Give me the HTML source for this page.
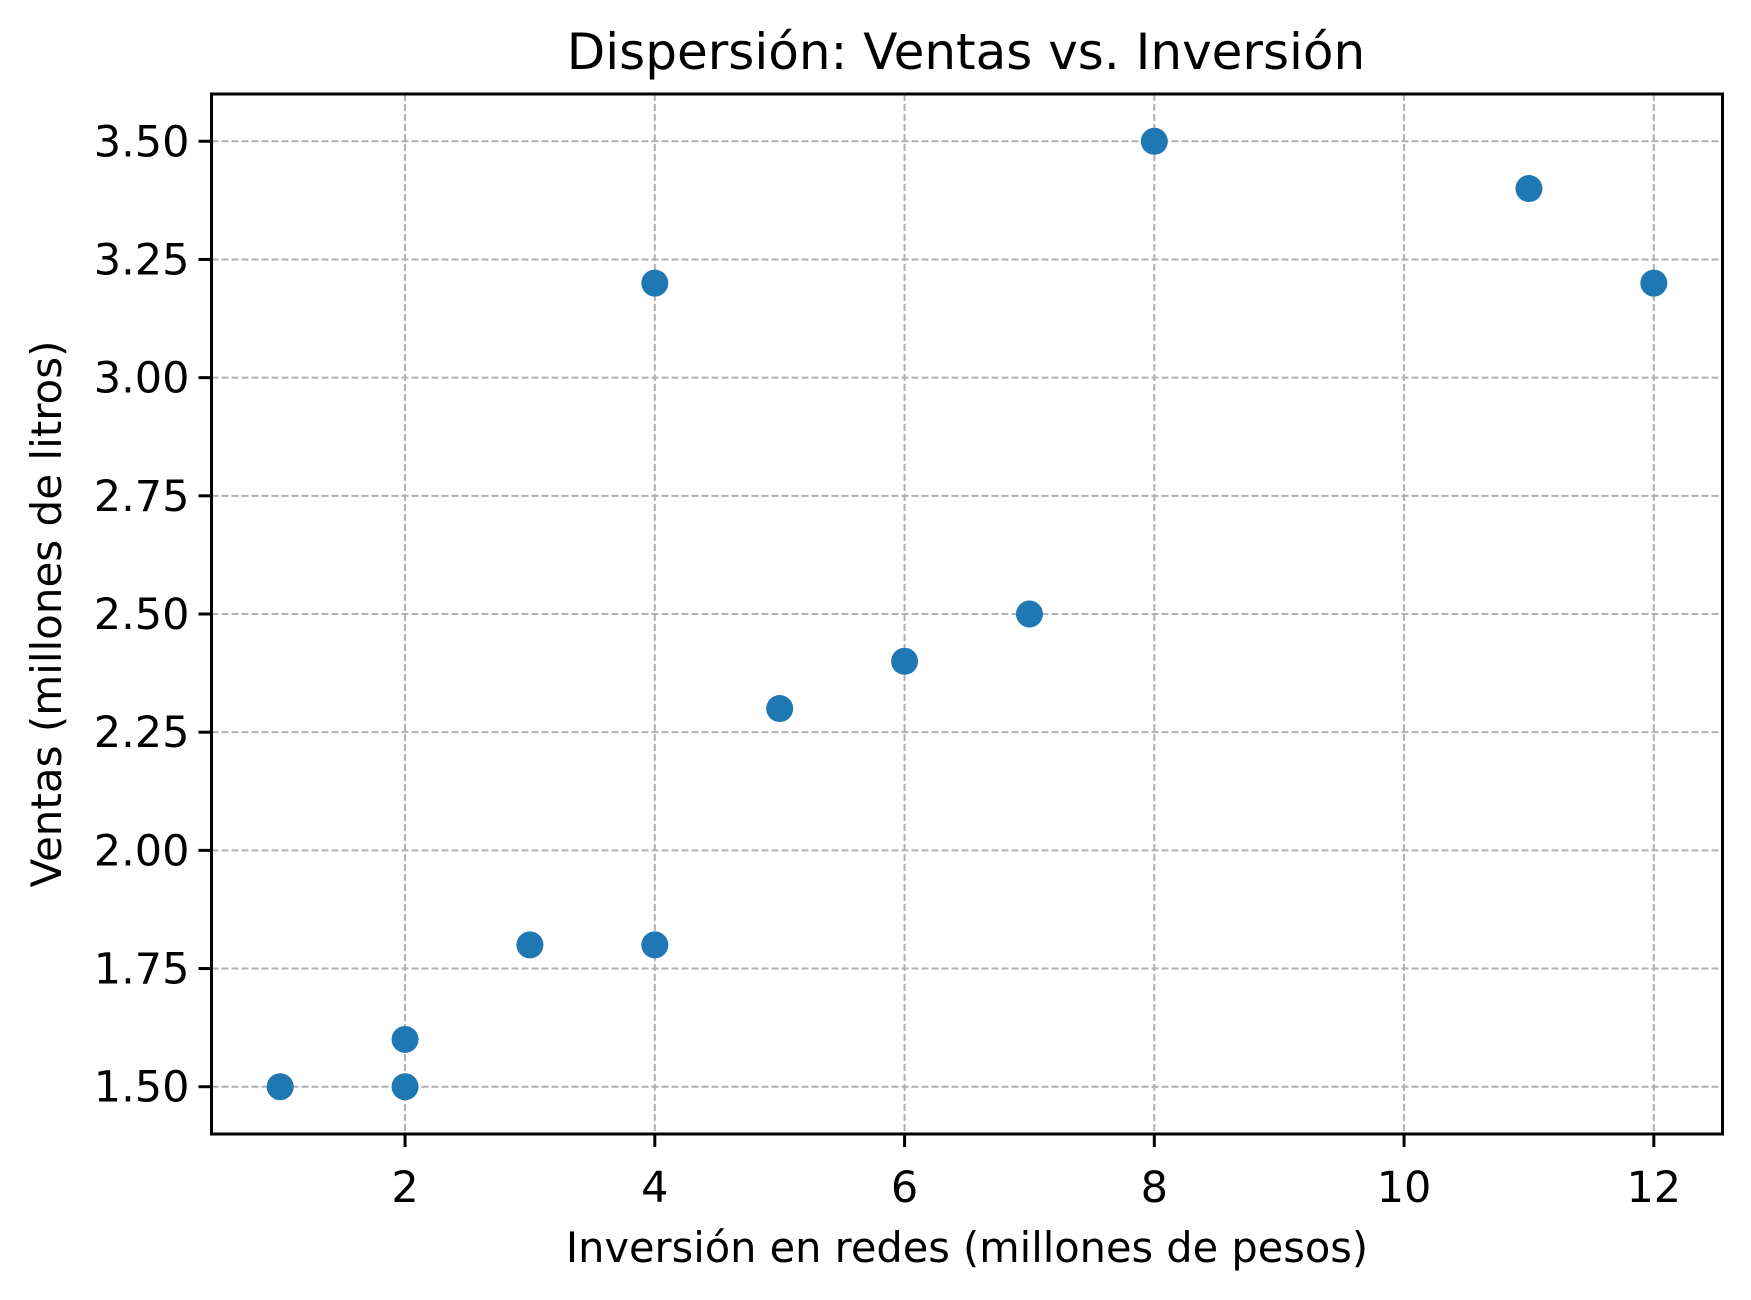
<!DOCTYPE html>
<html><head><meta charset="utf-8"><style>
html,body{margin:0;padding:0;background:#fff}
svg text{font-family:"DejaVu Sans","Liberation Sans",sans-serif;fill:#000}
</style></head><body>
<svg id="chart" width="1751" height="1295" viewBox="0 0 1751 1295">
<rect width="1751" height="1295" fill="#fff"/>
<g id="grid"></g>
<g id="points"></g>
<g id="axes"></g>
<text x="966" y="69" font-size="50" text-anchor="middle">Dispersión: Ventas vs. Inversión</text>
<text x="967" y="1262" font-size="41.5" text-anchor="middle">Inversión en redes (millones de pesos)</text>
<text transform="translate(61,614) rotate(-90)" font-size="42" text-anchor="middle">Ventas (millones de litros)</text>
</svg>
<script>
const xValues=[1,2,2,3,4,4,5,6,7,8,11,12];
const yValues=[1.5,1.5,1.6,1.8,1.8,3.2,2.3,2.4,2.5,3.5,3.4,3.2];
const xTicks=[2,4,6,8,10,12];
const yTicks=[1.5,1.75,2.0,2.25,2.5,2.75,3.0,3.25,3.5];
const yTickLabels=["1.50","1.75","2.00","2.25","2.50","2.75","3.00","3.25","3.50"];
const L=211.5,R=1722.5,T=94,B=1134;
const xMin=0.45,xMax=12.55,yMin=1.4,yMax=3.6;
const sx=v=>L+(v-xMin)/(xMax-xMin)*(R-L);
const sy=v=>B-(v-yMin)/(yMax-yMin)*(B-T);
const NS="http://www.w3.org/2000/svg";
function mk(tag,attrs,parent){const e=document.createElementNS(NS,tag);for(const k in attrs)e.setAttribute(k,attrs[k]);parent.appendChild(e);return e;}
const grid=document.getElementById('grid'),pts=document.getElementById('points'),axes=document.getElementById('axes');
xTicks.forEach(v=>{
  const g=mk('line',{x1:sx(v),x2:sx(v),y1:T,y2:B,stroke:'#b0b0b0','stroke-width':2,'stroke-dasharray':'7,3'},grid);
  
  
});
yTicks.forEach(v=>{
  const g=mk('line',{x1:L,x2:R,y1:sy(v),y2:sy(v),stroke:'#b0b0b0','stroke-width':2,'stroke-dasharray':'7,3'},grid);
  
  
});
xValues.forEach((x,i)=>{
  const c=mk('circle',{cx:sx(x),cy:sy(yValues[i]),r:13.5,fill:'#1f77b4'},pts);
  
  
});
const frame=mk('rect',{x:L,y:T,width:R-L,height:B-T,fill:'none',stroke:'#000','stroke-width':3},axes);


xTicks.forEach(v=>{
  const t=mk('line',{x1:sx(v),x2:sx(v),y1:B,y2:B+13,stroke:'#000','stroke-width':3},axes);
  
  
  const l=mk('text',{x:sx(v),y:1202,'font-size':43,'text-anchor':'middle'},axes);
  l.textContent=String(v);
  
  
});
yTicks.forEach((v,i)=>{
  const t=mk('line',{x1:L-13,x2:L,y1:sy(v),y2:sy(v),stroke:'#000','stroke-width':3},axes);
  
  
  const l=mk('text',{x:L-22,y:sy(v)+15,'font-size':43,'text-anchor':'end'},axes);
  l.textContent=yTickLabels[i];
  
  
});
</script>
</body></html>
